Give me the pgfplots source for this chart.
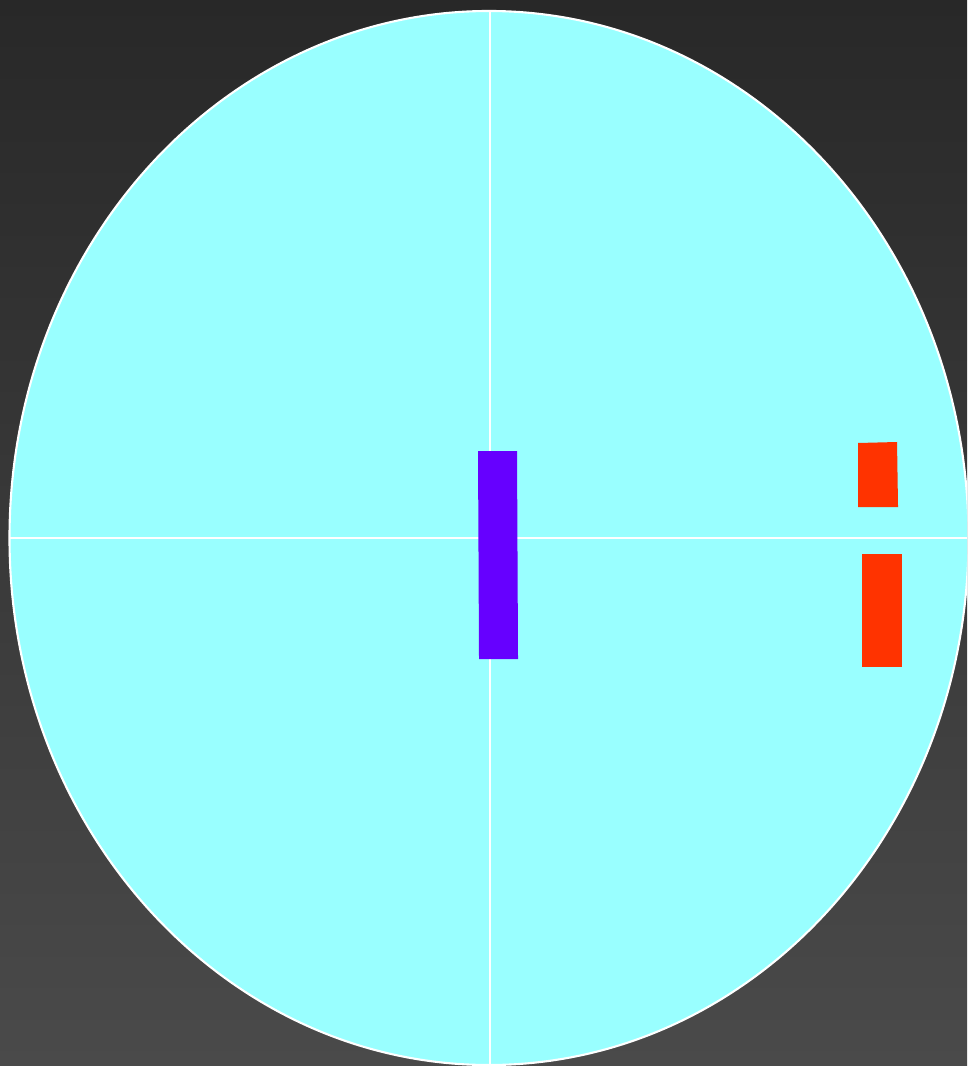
\documentclass[border=0pt]{standalone}
\usepackage{pgfplots}
\pgfplotsset{compat=1.18}
\definecolor{bgtop}{HTML}{282828}
\definecolor{bgbot}{HTML}{4A4A4A}
\definecolor{plotbg}{HTML}{99FFFF}
\definecolor{barpurple}{HTML}{6600FF}
\definecolor{barorange}{HTML}{FF3300}
\begin{document}
\begin{tikzpicture}
  \fill[top color=bgtop, bottom color=bgbot] (0,0) rectangle (9.67cm,10.66cm);
  \begin{axis}[
    at={(0,0)}, anchor=south west,
    scale only axis,
    width=9.67cm, height=10.66cm,
    xmin=0, xmax=967, ymin=0, ymax=1066,
    y dir=reverse,
    axis lines=none,
    clip=true,
  ]
    % plot area
    \fill[plotbg, draw=white, line width=0.6pt] (axis cs:489,538) ellipse [x radius=479.5, y radius=527];
    \draw[white, line width=0.55pt] (axis cs:490,11) -- (axis cs:490,1065);
    \draw[white, line width=0.55pt] (axis cs:10,538) -- (axis cs:967,538);
    % bars
    \addplot[fill=barpurple, draw=none] coordinates {(478,451) (517,451) (518,659) (479,659)} -- cycle;
    \addplot[fill=barorange, draw=none] coordinates {(858,443) (897,442) (898,507) (858,507)} -- cycle;
    \addplot[fill=barorange, draw=none] coordinates {(862,554) (902,554) (902,667) (862,667)} -- cycle;
  \end{axis}
\end{tikzpicture}
\end{document}
